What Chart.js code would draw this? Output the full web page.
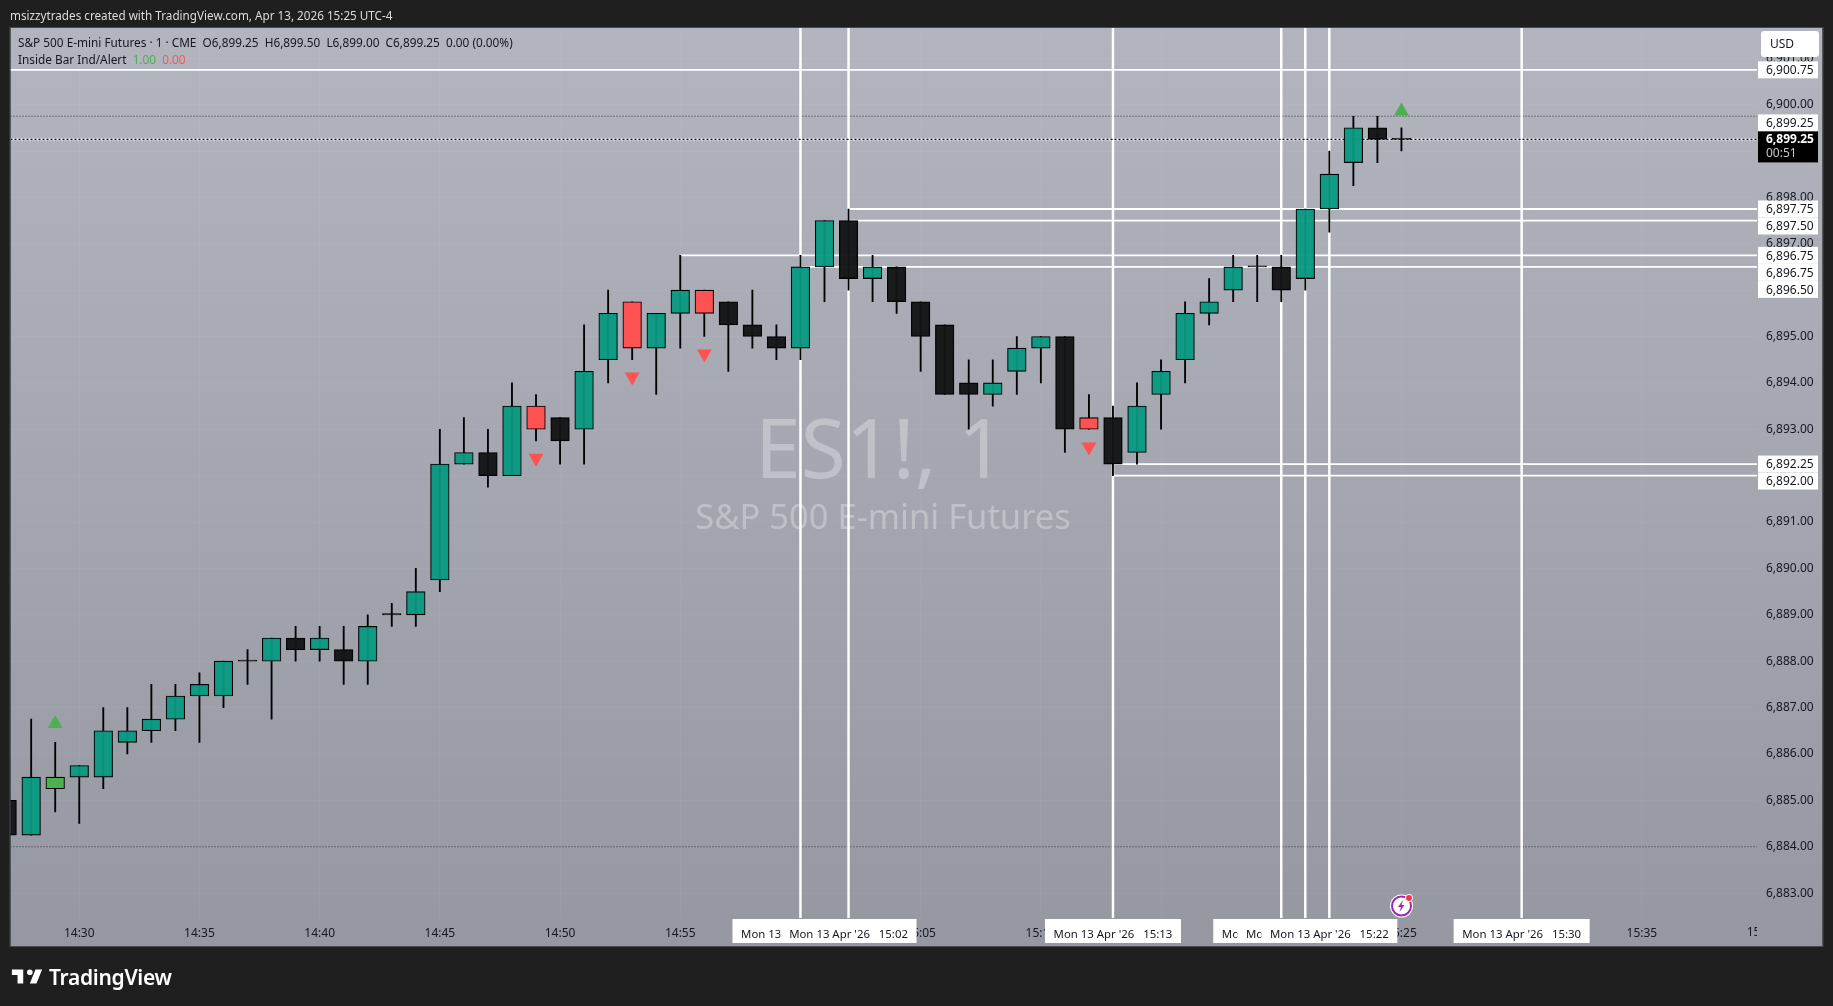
<!DOCTYPE html>
<html><head><meta charset="utf-8">
<script src="https://cdn.jsdelivr.net/npm/chart.js@4"></script>
<style>
html,body{margin:0;padding:0;background:#1f1f1f;width:1833px;height:1006px;overflow:hidden;font-family:"Noto Sans",sans-serif}
#c{position:absolute;left:0;top:0}
.t{position:absolute;white-space:pre;line-height:16px}
</style></head><body>
<canvas id="c" width="1833" height="1006"></canvas>
<div class="t" style="left:10px;top:7px;font-size:11.7px;color:#dcdcdc">msizzytrades created with TradingView.com, Apr 13, 2026 15:25 UTC-4</div>
<div class="t" style="left:18px;top:34px;font-size:11.8px;color:#131722">S&amp;P 500 E-mini Futures · 1 · CME  O6,899.25  H6,899.50  L6,899.00  C6,899.25  0.00 (0.00%)</div>
<div class="t" style="left:18px;top:51px;font-size:11.8px;color:#131722">Inside Bar Ind/Alert  <span style="color:#4caf50">1.00</span>  <span style="color:#ff5252">0.00</span></div>
<svg style="position:absolute;left:10px;top:967px" width="34" height="19" viewBox="0 4 36 19"><path fill="#fff" d="M14 6H2v6h6v9h6V6zm14 15h-7l6-15h7l-6 15zm-7-9a3 3 0 1 0 0-6 3 3 0 0 0 0 6z"/></svg>
<div class="t" style="left:49px;top:965px;font-size:21px;line-height:24px;font-weight:600;color:#fff;letter-spacing:-.3px">TradingView</div>
<svg style="position:absolute;left:1389px;top:893px" width="26" height="26" viewBox="0 0 26 26">
<circle cx="12.5" cy="13" r="11.5" fill="#fff"/><circle cx="12.5" cy="13" r="9.5" fill="#fff" stroke="#9c27b0" stroke-width="2"/>
<path d="M14 7l-5 7h3l-1.5 5 5-7h-3z" fill="#9c27b0"/><circle cx="20" cy="5" r="3.6" fill="#f23645" stroke="#fff" stroke-width="1"/></svg>
<script>
const opens=[6885,6884.25,6885.25,6885.5,6885.5,6886.25,6886.5,6886.75,6887.25,6887.25,6888,6888,6888.5,6888.25,6888.25,6888,6889,6889,6889.75,6892.25,6892.5,6892,6893.5,6893.25,6893,6894.5,6895.75,6894.75,6895.5,6896,6895.75,6895.25,6895,6894.75,6896.5,6897.5,6896.25,6896.5,6895.75,6895.25,6894,6893.75,6894.25,6894.75,6895,6893.25,6893.25,6892.5,6893.75,6894.5,6895.5,6896,6896.5,6896.5,6896.25,6897.75,6898.75,6899.5,6899.25];
const highs=[6885,6886.75,6886.25,6885.75,6887,6887,6887.5,6887.5,6887.75,6888,6888.25,6888.5,6888.75,6888.75,6888.75,6889,6889.25,6890,6893,6893.25,6893,6894,6893.75,6893.25,6895.25,6896,6895.75,6895.5,6896.75,6896,6895.75,6896,6895.25,6896.75,6897.5,6897.75,6896.75,6896.5,6895.75,6895.25,6894.5,6894.5,6895,6895,6895,6893.75,6893.5,6894,6894.5,6895.75,6896.25,6896.75,6896.75,6896.75,6897.75,6899,6899.75,6899.75,6899.5];
const lows=[6884.25,6884.25,6884.75,6884.5,6885.25,6886,6886.25,6886.5,6886.25,6887,6887.5,6886.75,6888,6888,6887.5,6887.5,6888.75,6888.75,6889.5,6892.25,6891.75,6892,6892.75,6892.25,6892.25,6894,6894.5,6893.75,6894.75,6895,6894.25,6894.75,6894.5,6894.5,6895.75,6896,6895.75,6895.5,6894.25,6893.75,6893,6893.5,6893.75,6894,6892.5,6893,6892,6892.25,6893,6894,6895.25,6895.75,6895.75,6895.75,6896,6897.25,6898.25,6898.75,6899];
const closes=[6884.25,6885.5,6885.5,6885.75,6886.5,6886.5,6886.75,6887.25,6887.5,6888,6888,6888.5,6888.25,6888.5,6888,6888.75,6889,6889.5,6892.25,6892.5,6892,6893.5,6893,6892.75,6894.25,6895.5,6894.75,6895.5,6896,6895.5,6895.25,6895,6894.75,6896.5,6897.5,6896.25,6896.5,6895.75,6895,6893.75,6893.75,6894,6894.75,6895,6893,6893,6892.25,6893.5,6894.25,6895.5,6895.75,6896.5,6896.5,6896,6897.75,6898.5,6899.5,6899.25,6899.25];
const insideGreen=[2];
const insideRed=[22,26,29,45];
const firstMinute=867; // 14:27
const triangleUpBars=[2,58];
const triangleUpPrices=[6886.65,6899.86];
const triangleDownBars=[22,26,29,45];
const triangleDownPrices=[6892.38,6894.13,6894.63,6892.62];
const verticalBars=[33,35,46,53,54,55,63];
const verticalTimes=['15:00','15:02','15:13','15:20','15:21','15:22','15:30'];
const rayStartBars=[null,35,35,28,33,46,46];
const rayPrices=[6900.75,6897.75,6897.5,6896.75,6896.5,6892.25,6892];
const whiteLabels=['6,900.75','6,897.75','6,897.50','6,896.75','6,896.75','6,896.50','6,892.25','6,892.00'];
const whiteLabelPrices=[6900.75,6897.75,6897.5,6896.75,6896.75,6896.5,6892.25,6892];
const lastPrice=6899.25, sessionHigh=6899.75, sessionLow=6884;
const countdown='00:51';
const yTop=6901.652,yBottom=6882.463,xLeft=867.14,xRight=939.79;

const TEAL='rgba(8,153,129,.95)',BLACK='rgba(19,20,22,.96)',RED='#ff5252',GREEN='#4caf50';
const m=i=>firstMinute+i;
const colour=closes.map((c,i)=>insideGreen.includes(i)?GREEN:insideRed.includes(i)?RED:c>opens[i]?TEAL:BLACK);
const two=n=>String(n).padStart(2,'0');
const clock=v=>two(Math.floor(v/60))+':'+two(v%60);
const FONT='"Noto Sans",sans-serif';

const hline=(a,b,y,col,w,dash,ord)=>({type:'line',data:[{x:a,y},{x:b,y}],borderColor:col,borderWidth:w,borderDash:dash||[],pointRadius:0,order:ord,tension:0});

const bg={id:'bg',beforeDraw(ch){
  const c=ch.ctx,g=c.createLinearGradient(0,28,0,946);
  g.addColorStop(0,'#b2b5be');g.addColorStop(1,'#9598a1');
  c.save();c.fillStyle=g;c.fillRect(10.5,27.5,1812,918.5);
  c.strokeStyle='#4a4a4a';c.lineWidth=1;c.strokeRect(10,27.5,1813,919);c.restore();
},beforeDatasetsDraw(ch){
  const c=ch.ctx;c.save();c.textAlign='center';c.textBaseline='middle';
  c.fillStyle='rgba(255,255,255,.3)';
  c.font='82px '+FONT;c.fillText('ES1!, 1',880,455);
  c.font='34.5px '+FONT;c.fillText('S&P 500 E-mini Futures',883,519);c.restore();
}};
const axisLabels={id:'axisLabels',afterDraw(ch){
  const c=ch.ctx,y=ch.scales.y,x=ch.scales.x;
  c.save();c.font='12px '+FONT;c.textBaseline='middle';
  const L=1758,W=60,H=17;
  // clipped last time tick
  c.save();c.beginPath();c.rect(11,918,1746,28);c.clip();c.fillStyle='#131722';c.textAlign='center';
  c.fillText(clock(940),x.getPixelForValue(940),933);c.restore();
  c.textAlign='left';
  let prev=-100;
  whiteLabels.forEach((t,i)=>{
    const yy=Math.max(y.getPixelForValue(whiteLabelPrices[i]),prev+H);prev=yy;
    c.fillStyle='#fff';c.fillRect(L,yy-H/2,W,H);
    c.fillStyle='#131722';c.fillText(t,1766,yy+1);
  });
  const ly=y.getPixelForValue(lastPrice);
  c.fillStyle='#fff';c.fillRect(L,ly-25,W,17);
  c.fillStyle='#131722';c.fillText('6,899.25',1766,ly-16);
  c.fillStyle='#000';c.fillRect(L,ly-8,W,31);
  c.fillStyle='#fff';c.font='bold 12px '+FONT;c.fillText('6,899.25',1766,ly+0.5);
  c.fillStyle='#c8c8c8';c.font='12px '+FONT;c.fillText(countdown,1766,ly+14);
  // USD
  c.fillStyle='#fff';c.beginPath();c.roundRect(1761,31,58,26,3);c.fill();
  c.fillStyle='#131722';c.fillText('USD',1770,44.5);
  // date labels
  c.textAlign='center';c.font='11.4px '+FONT;
  verticalBars.forEach((b,i)=>{
    const px=x.getPixelForValue(m(b));
    c.fillStyle='#fff';c.fillRect(px-68,919,136,24);
    c.fillStyle='#131722';c.fillText("Mon 13 Apr '26   "+verticalTimes[i],px,934.5);
  });
  c.restore();
}};

new Chart(document.getElementById('c'),{
  data:{datasets:[
    {type:'scatter',data:triangleUpBars.map((b,i)=>({x:m(b),y:triangleUpPrices[i]})),pointStyle:'triangle',pointRadius:8.6,backgroundColor:GREEN,borderWidth:0,order:0},
    {type:'scatter',data:triangleDownBars.map((b,i)=>({x:m(b),y:triangleDownPrices[i]})),pointStyle:'triangle',rotation:180,pointRadius:8.6,backgroundColor:RED,borderWidth:0,order:0},
    {type:'bar',data:opens.map((o,i)=>({x:m(i),y:[o,closes[i]]})),backgroundColor:colour,borderColor:'#000',borderWidth:1.1,borderSkipped:false,barThickness:18.6,minBarLength:1.2,grouped:false,order:1},
    {type:'bar',data:highs.map((h,i)=>({x:m(i),y:[lows[i],h]})),backgroundColor:'#000',barThickness:1.2,grouped:false,order:2},
    hline(xLeft,xRight,rayPrices[0],'#fff',1.8,null,3),
    ...rayPrices.slice(1).map((p,i)=>hline(m(rayStartBars[i+1]),xRight,p,'#fff',1.8,null,3)),
    {type:'bar',data:verticalBars.map(b=>({x:m(b),y:[yBottom,yTop]})),backgroundColor:'#fff',barThickness:1.8,grouped:false,order:4},
    hline(xLeft,xRight,sessionHigh,'#2a2e39',1,[1,2],5),
    hline(xLeft,xRight,sessionLow,'#2a2e39',1,[1,2],5),
    hline(xLeft,xRight,lastPrice,'#000',1.4,[2,2],3),
    hline(xLeft,xRight,lastPrice,'#fff',1.6,null,3.5),
  ]},
  plugins:[bg,axisLabels],
  options:{
    responsive:false,animation:false,devicePixelRatio:1,
    layout:{padding:{left:10.5,top:28,right:10,bottom:60}},
    plugins:{legend:{display:false},tooltip:{enabled:false},title:{display:false}},
    scales:{
      x:{type:'linear',offset:false,min:xLeft,max:xRight,afterFit:s=>{s.height=28},
        grid:{color:'rgba(255,255,255,.045)',offset:false,drawTicks:false},border:{display:false},
        ticks:{stepSize:5,includeBounds:false,autoSkip:false,maxRotation:0,padding:8,color:'#131722',font:{family:FONT,size:12},callback:v=>clock(v)}},
      y:{type:'linear',position:'right',min:yBottom,max:yTop,afterFit:s=>{s.width=66},
        grid:{color:'rgba(255,255,255,.045)',drawTicks:false},border:{display:false},
        ticks:{stepSize:1,includeBounds:false,autoSkip:false,padding:9,color:'#131722',font:{family:FONT,size:12},
          callback:v=>v.toLocaleString('en-US',{minimumFractionDigits:2,maximumFractionDigits:2})}}
    }
  }
});
</script>
</body></html>
